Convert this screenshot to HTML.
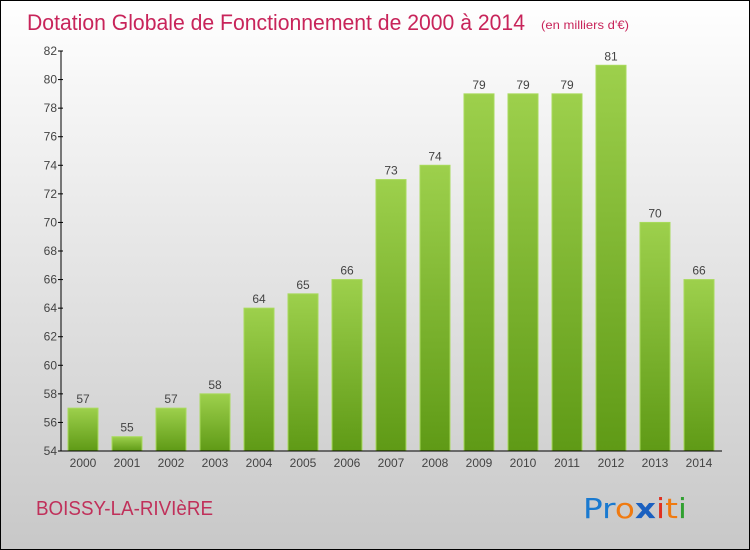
<!DOCTYPE html>
<html><head><meta charset="utf-8"><style>
body{margin:0}
#c{position:relative;width:748px;height:548px;border:1px solid #000;background:linear-gradient(#fff,#c8c8c8);font-family:"Liberation Sans",sans-serif;overflow:hidden}
</style></head><body>
<div id="c">
<svg width="748" height="548" style="position:absolute;left:0;top:0">
<defs>
<linearGradient id="g" x1="0" y1="0" x2="0" y2="1"><stop offset="0" stop-color="#9dd04c"/><stop offset="1" stop-color="#5f9a16"/></linearGradient>
</defs>
<text x="26" y="29" font-size="22" fill="#c8245a" textLength="498" lengthAdjust="spacingAndGlyphs">Dotation Globale de Fonctionnement de 2000 à 2014</text>
<text x="540" y="28" font-size="12" fill="#c8245a" textLength="88" lengthAdjust="spacingAndGlyphs">(en milliers d'€)</text>
<g id="bars"></g>
<g id="axes"></g>
<text x="35" y="514" font-size="20" fill="#c0305a" textLength="177" lengthAdjust="spacingAndGlyphs">BOISSY-LA-RIVIèRE</text>
<g font-size="28" style="font-family:'DejaVu Sans',sans-serif">
<text x="582" y="517" textLength="104" lengthAdjust="spacingAndGlyphs"><tspan fill="#1a7ad0">P</tspan><tspan fill="#1a7ad0">r</tspan><tspan fill="#f07a10">o</tspan><tspan fill="#1a60c0" font-weight="bold">x</tspan><tspan fill="#e03020">i</tspan><tspan fill="#f07a10">t</tspan><tspan fill="#30a030">i</tspan></text>
</g>
</svg>
</div>
<script>
const categories=["2000","2001","2002","2003","2004","2005","2006","2007","2008","2009","2010","2011","2012","2013","2014"];
const values=[57,55,57,58,64,65,66,73,74,79,79,79,81,70,66];
const yTicks=[54,56,58,60,62,64,66,68,70,72,74,76,78,80,82];
const ns="http://www.w3.org/2000/svg";
const y0=450,ppu=400/28,yMin=54;
function y(v){return y0-(v-yMin)*ppu;}
function xc(i){return 82+i*44;}
const bars=document.getElementById('bars'),axes=document.getElementById('axes');
function mk(t,a,p){const e=document.createElementNS(ns,t);for(const k in a)e.setAttribute(k,a[k]);p.appendChild(e);return e;}
values.forEach((v,i)=>{
const r=mk('rect',{x:xc(i)-15,y:y(v),width:30,height:y0-y(v),fill:'url(#g)',stroke:'#a8da5c','stroke-width':1},bars);


const t=mk('text',{x:xc(i),y:y(v)-5,'text-anchor':'middle','font-size':12,fill:'#444'},bars);
t.textContent=v;


const c=mk('text',{x:xc(i),y:466,'text-anchor':'middle','font-size':12,fill:'#444'},axes);
c.textContent=categories[i];


});
mk('line',{x1:60,y1:y(82),x2:60,y2:y0,stroke:'#000'},axes);
mk('line',{x1:60,y1:y0,x2:721,y2:y0,stroke:'#000'},axes);
yTicks.forEach(v=>{
mk('line',{x1:57,y1:y(v),x2:62,y2:y(v),stroke:'#000'},axes);
const t=mk('text',{x:56,y:y(v)+4,'text-anchor':'end','font-size':12,fill:'#444'},axes);
t.textContent=v;


});
</script>
</body></html>
